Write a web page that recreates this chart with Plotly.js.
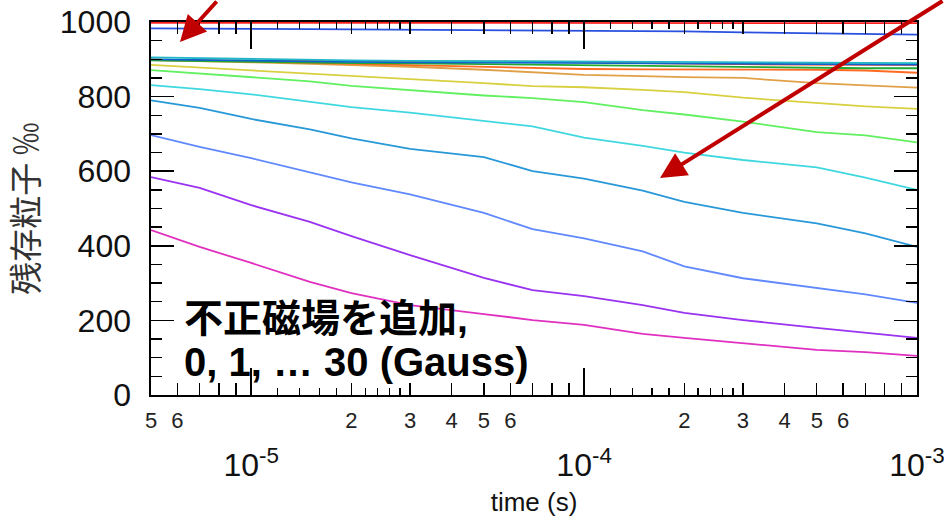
<!DOCTYPE html>
<html>
<head>
<meta charset="utf-8">
<script src="https://cdn.plot.ly/plotly-3.0.1.min.js"></script>
<style>html,body{margin:0;padding:0;background:#fff;}#chart{width:944px;height:522px;}</style>
</head>
<body>
<div id="chart"></div>
<script>
// time samples (s)
const timeS = [5e-6, 7e-6, 1e-5, 1.5e-5, 2e-5, 3e-5, 5e-5, 7e-5, 1e-4, 1.5e-4, 2e-4, 3e-4, 5e-4, 7e-4, 1e-3];

// surviving particles (per mille)
const redTop      = [998, 998, 997, 997, 997, 997, 997, 997, 997, 997, 997, 997, 997, 997, 997];
const blueTop     = [983, 983, 982, 981, 980, 979, 978, 977, 977, 976, 975, 972, 970, 968, 966];
const tealBundle  = [905, 903, 900, 898, 897, 896, 895, 894, 893, 893, 892, 892, 891, 890, 890];
const blueBundle  = [900, 898, 896, 894, 893, 892, 891, 890, 889, 889, 888, 888, 887, 887, 886];
const greenBundle = [897, 895, 893, 891, 890, 889, 887, 885, 883, 882, 880, 879, 876, 876, 876];
const redBundle   = [898, 897, 896, 896, 895, 895, 894, 894, 893, 890, 888, 887, 886, 885, 885];
const orangeBundle= [900, 897, 893, 890, 887, 884, 879, 877, 874, 873, 873, 872, 872, 870, 864];
const ochreLine   = [898, 896, 892, 888, 885, 880, 872, 866, 858, 855, 852, 850, 836, 830, 824];
const yellowLine  = [885, 878, 870, 862, 855, 848, 836, 828, 825, 818, 812, 797, 782, 774, 767];
const lightGreen  = [871, 862, 852, 841, 829, 817, 803, 796, 785, 764, 752, 733, 705, 696, 677];
const cyanLine    = [831, 820, 806, 785, 772, 757, 735, 720, 690, 668, 650, 630, 610, 583, 550];
const azureLine   = [790, 770, 740, 712, 688, 660, 638, 600, 580, 548, 518, 488, 460, 433, 397];
const cornflower  = [697, 665, 635, 597, 570, 538, 488, 445, 420, 385, 345, 313, 286, 270, 247];
const purpleLine  = [584, 555, 509, 464, 426, 375, 314, 281, 265, 241, 220, 201, 180, 166, 153];
const magentaLine = [442, 397, 354, 303, 273, 241, 217, 201, 188, 164, 153, 139, 121, 115, 105];

// axis ticks
const xTickVals = [5e-6, 6e-6, 2e-5, 3e-5, 4e-5, 5e-5, 6e-5, 2e-4, 3e-4, 4e-4, 5e-4, 6e-4];
const xTickText = ['5', '6', '2', '3', '4', '5', '6', '2', '3', '4', '5', '6'];
const xPlainTicks = [7e-6, 8e-6, 9e-6, 7e-5, 8e-5, 9e-5, 7e-4, 8e-4, 9e-4];
const xMinorVals = [1.2e-5, 1.4e-5, 1.6e-5, 1.8e-5, 2.2e-5, 2.4e-5, 2.6e-5, 2.8e-5,
                    1.2e-4, 1.4e-4, 1.6e-4, 1.8e-4, 2.2e-4, 2.4e-4, 2.6e-4, 2.8e-4];
const decadeVals = [1e-5, 1e-4, 1e-3];
const decadeText = ['10<sup>-5</sup>', '10<sup>-4</sup>', '10<sup>-3</sup>'];
const yTickVals = [0, 200, 400, 600, 800, 1000];

const series = [
  {name: 'magenta', y: magentaLine, color: '#e030c0'},
  {name: 'purple', y: purpleLine, color: '#9a32f0'},
  {name: 'cornflower', y: cornflower, color: '#6088ff'},
  {name: 'azure', y: azureLine, color: '#2898d8'},
  {name: 'cyan', y: cyanLine, color: '#40d8e0'},
  {name: 'light green', y: lightGreen, color: '#60f060'},
  {name: 'yellow', y: yellowLine, color: '#d8d040'},
  {name: 'ochre', y: ochreLine, color: '#e0a048'},
  {name: 'orange', y: orangeBundle, color: '#ff6a20'},
  {name: 'red (bundle)', y: redBundle, color: '#ff3000'},
  {name: 'green', y: greenBundle, color: '#20a830'},
  {name: 'blue (bundle)', y: blueBundle, color: '#1060d0'},
  {name: 'teal', y: tealBundle, color: '#20b8c8'},
  {name: 'blue (top)', y: blueTop, color: '#2a50e0', xaxis: 'x3'},
  {name: 'red (top)', y: redTop, color: '#ff2020', xaxis: 'x2'}
];

const traces = series.map(s => ({
  type: 'scatter', mode: 'lines', name: s.name,
  x: timeS, y: s.y, xaxis: s.xaxis || 'x', yaxis: 'y',
  line: {color: s.color, width: 1.8},
  hoverinfo: 'skip', showlegend: false
}));

const sans = '"Liberation Sans", Arial, "Noto Sans CJK JP", sans-serif';
const xRange = [Math.log10(5e-6), -3];

const layout = {
  width: 944, height: 522,
  margin: {l: 151, r: 27, t: 22, b: 127},
  paper_bgcolor: '#ffffff', plot_bgcolor: '#ffffff',
  showlegend: false,
  font: {family: sans, color: '#111'},
  xaxis: {
    type: 'log', range: xRange,
    tickmode: 'array', tickvals: xTickVals, ticktext: xTickText,
    ticks: 'inside', ticklen: 12, tickwidth: 1.4, tickcolor: '#000',
    showline: true, linecolor: '#000', linewidth: 1.6, mirror: 'ticks',
    showgrid: false, zeroline: false,
    tickfont: {family: sans, size: 22, color: '#222'},
    ticklabelstandoff: 5,
    minor: {tickmode: 'array', tickvals: xMinorVals, ticks: 'inside', ticklen: 7,
            tickwidth: 1.2, tickcolor: '#000', showgrid: false},
    title: {text: 'time (s)', font: {family: sans, size: 26, color: '#111'}, standoff: 61}
  },
  xaxis2: {
    type: 'log', range: xRange, overlaying: 'x', anchor: 'y', side: 'bottom',
    tickmode: 'array', tickvals: decadeVals, ticktext: decadeText,
    ticks: 'inside', ticklen: 27, tickwidth: 1.6, tickcolor: '#000',
    showline: true, linecolor: '#000', linewidth: 1.6, mirror: 'ticks',
    showgrid: false, zeroline: false,
    tickfont: {family: sans, size: 32, color: '#111'},
    ticklabelstandoff: 41, ticklabeloverflow: 'allow'
  },
  xaxis3: {
    type: 'log', range: xRange, overlaying: 'x', anchor: 'y', side: 'bottom',
    tickmode: 'array', tickvals: xPlainTicks, showticklabels: false,
    ticks: 'inside', ticklen: 12, tickwidth: 1.4, tickcolor: '#000',
    showline: true, linecolor: '#000', linewidth: 1.6, mirror: 'ticks',
    showgrid: false, zeroline: false
  },
  yaxis: {
    range: [0, 1000],
    tickmode: 'array', tickvals: yTickVals,
    ticks: 'inside', ticklen: 23, tickwidth: 1.5, tickcolor: '#000',
    showline: true, linecolor: '#000', linewidth: 1.6, mirror: 'ticks',
    showgrid: false, zeroline: false,
    tickfont: {family: sans, size: 32, color: '#111'},
    ticklabelstandoff: 12,
    minor: {dtick: 50, ticks: 'inside', ticklen: 11, tickwidth: 1.4, tickcolor: '#000', showgrid: false},
    title: {text: '残存粒子 ‰', font: {family: '"Noto Sans CJK JP", sans-serif', size: 33, color: '#333'}, standoff: 11}
  },
  annotations: [
    {xref: 'paper', yref: 'paper', x: (182 - 151) / 766, y: (395 - 318) / 373,
     xanchor: 'left', yanchor: 'middle', showarrow: false,
     text: '<b>不正磁場を追加,</b>',
     font: {family: '"Liberation Sans", "Noto Sans CJK JP", sans-serif', size: 39, color: '#000'}},
    {xref: 'paper', yref: 'paper', x: (182 - 151) / 766, y: (395 - 362) / 373,
     xanchor: 'left', yanchor: 'middle', showarrow: false,
     text: '<b>0, 1, … 30 (Gauss)</b>',
     font: {family: '"Liberation Sans", "Noto Sans CJK JP", sans-serif', size: 40, color: '#000'}},
    {xref: 'paper', yref: 'paper', x: (180 - 151) / 766, y: (395 - 42) / 373,
     showarrow: true, text: '', axref: 'pixel', ayref: 'pixel', ax: 38, ay: -52,
     arrowcolor: '#c00000', arrowwidth: 4, arrowhead: 2, arrowsize: 1.3},
    {xref: 'paper', yref: 'paper', x: (660 - 151) / 766, y: (395 - 178) / 373,
     showarrow: true, text: '', axref: 'pixel', ayref: 'pixel', ax: 290, ay: -190,
     arrowcolor: '#c00000', arrowwidth: 4, arrowhead: 2, arrowsize: 1.3}
  ]
};

Plotly.newPlot('chart', traces, layout, {staticPlot: true, displayModeBar: false});
</script>
</body>
</html>
